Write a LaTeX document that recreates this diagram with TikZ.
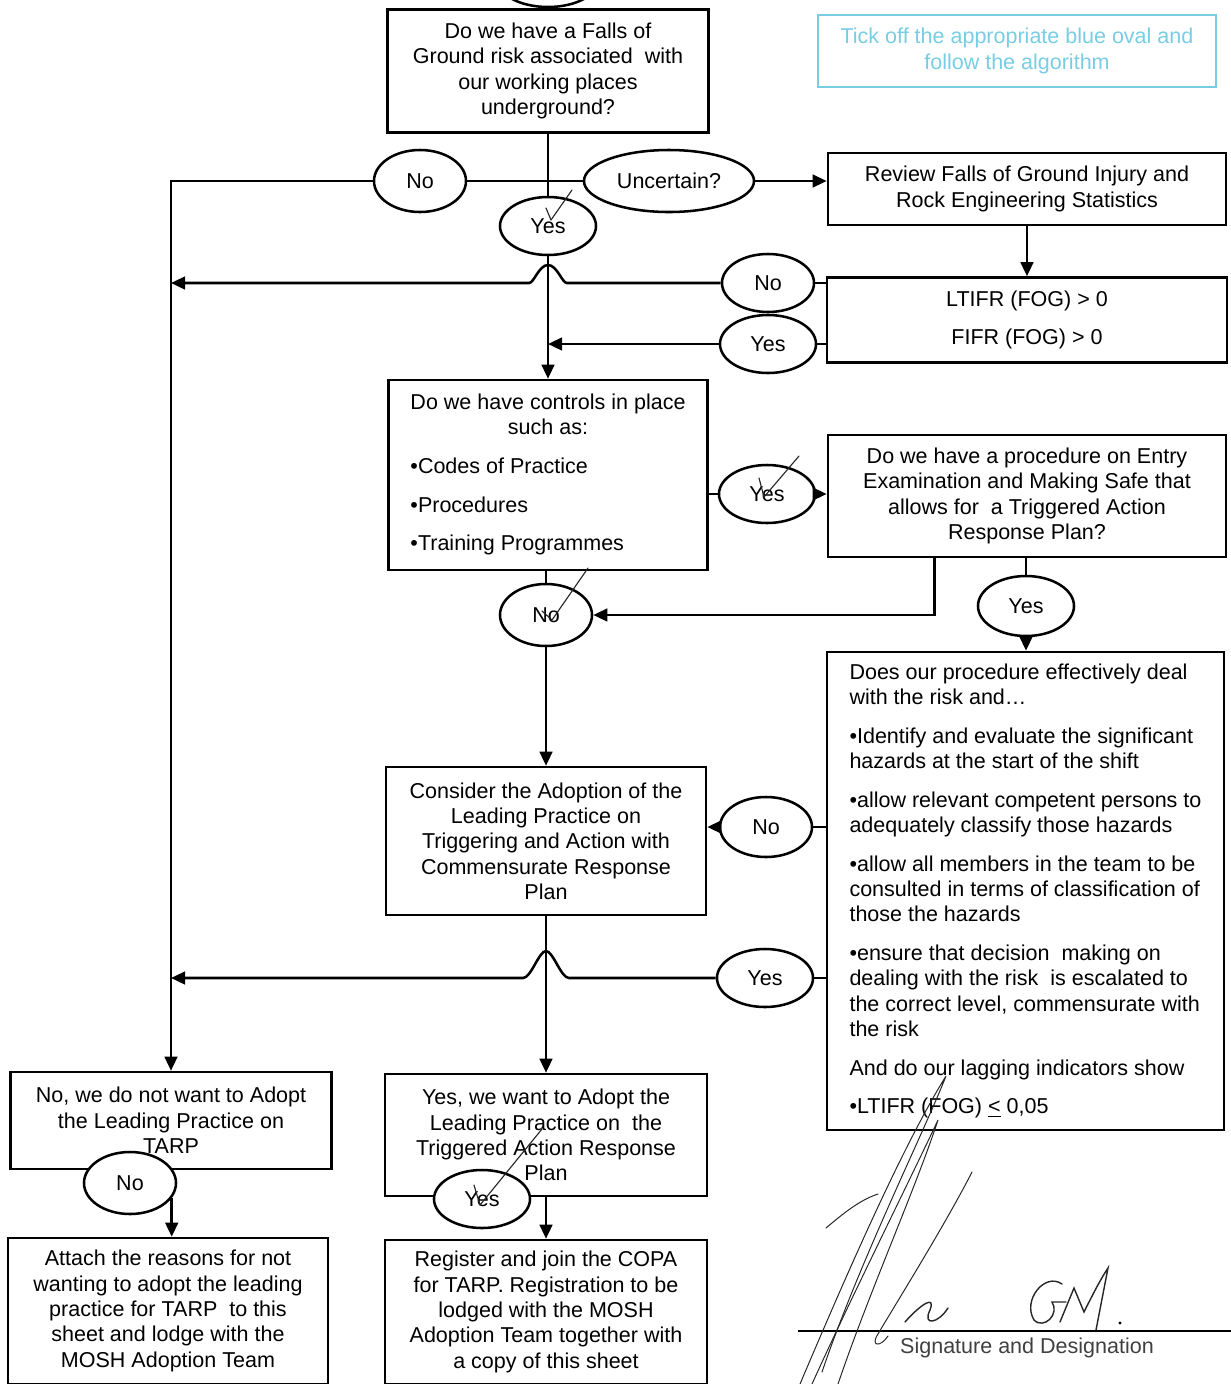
\documentclass[tikz,border=0pt]{standalone}
\usepackage{fontspec}
\setmainfont{Liberation Sans}
\usepackage{xcolor}
\usetikzlibrary{arrows.meta, positioning, shapes.geometric, calc}
\definecolor{notecyan}{RGB}{120,205,228}

\begin{document}
\begin{tikzpicture}[x=0.025cm, y=-0.025cm, font=\fontsize{15.3}{18}\selectfont,
  box/.style={draw, line width=1.8pt, fill=white, inner sep=2pt, align=center},
  oval/.style={draw, ellipse, line width=1.8pt, fill=white, inner sep=0pt,
    minimum width=2.4cm, minimum height=1.45cm},
  line/.style={line width=1.8pt},
  arr/.style={line width=1.8pt, -{Triangle[length=10pt, width=9pt]}},
  tick/.style={line width=0.8pt, black!85, line cap=round, line join=round},
  pen/.style={line width=0.7pt, black!85, line cap=round}]
  % Page
  \useasboundingbox (0,0) rectangle (1231,1384);
  \clip (0,0) rectangle (1231,1384);

  % Note at the top right
  \node[draw=notecyan, line width=0.8pt, text=notecyan, minimum width=9.95cm,
    minimum height=1.8cm, align=center] (note) at (1017,51)
    {Tick off the appropriate blue oval and\\follow the algorithm};

  % First question
  \node[oval, minimum width=2.6cm] (topoval) at (548,-22) {};
  \node[box, minimum width=8.025cm, minimum height=3.075cm] (q1) at (548,71)
    {Do we have a Falls of\\Ground risk associated\ \ with\\our working places\\underground?};
  \node[oval, minimum width=2.3cm, minimum height=1.55cm] (no1) at (420,181) {No};
  \node[oval, minimum width=4.25cm, minimum height=1.55cm] (unc) at (669,181) {Uncertain?};
  \node[oval] (yes1) at (548,226) {Yes};

  % Statistics
  \node[box, minimum width=9.95cm, minimum height=1.8cm] (review) at (1027,189)
    {Review Falls of Ground Injury and\\Rock Engineering Statistics};
  \node[box, minimum width=10cm, minimum height=2.125cm] (ltifr) at (1027,320)
    {LTIFR (FOG) > 0\\[9.5pt]FIFR (FOG) > 0};
  \node[oval, minimum width=2.3cm] (no2) at (768,283) {No};
  \node[oval] (yes2) at (768,344) {Yes};

  % Controls
  \node[box, minimum width=7.975cm, minimum height=4.75cm] (q2) at (548,475)
    {\begin{tabular}{@{}l@{}}
       Do we have controls in place\\
       \multicolumn{1}{@{}c@{}}{such as:}\\[9.5pt]
       •Codes of Practice\\[9.5pt]
       •Procedures\\[9.5pt]
       •Training Programmes
     \end{tabular}};
  \node[oval] (yes3) at (767,494) {Yes};
  \node[box, minimum width=9.95cm, minimum height=3.05cm] (q3) at (1027,496)
    {Do we have a procedure on Entry\\Examination and Making Safe that\\allows for\ \ a Triggered Action\\Response Plan?};
  \node[oval, minimum height=1.5cm] (yes4) at (1026,606) {Yes};
  \node[oval, minimum width=2.3cm, minimum height=1.55cm] (no3) at (546,615) {No};

  % Procedure check
  \node[box, minimum width=9.925cm, minimum height=11.95cm, align=left] (q4) at (1025.5,891)
    {Does our procedure effectively deal\\
     with the risk and…\\[9.5pt]
     •Identify and evaluate the significant\\
     hazards at the start of the shift\\[9.5pt]
     •allow relevant competent persons to\\
     adequately classify those hazards\\[9.5pt]
     •allow all members in the team to be\\
     consulted in terms of classification of\\
     those the hazards\\[9.5pt]
     •ensure that decision\ \ making on\\
     dealing with the risk\ \ is escalated to\\
     the correct level, commensurate with\\
     the risk\\[9.5pt]
     And do our lagging indicators show\\[9.5pt]
     •LTIFR (FOG) \underline{<} 0,05};
  \node[oval, minimum width=2.3cm, minimum height=1.5cm] (no4) at (766,827) {No};
  \node[oval] (yes5) at (765,978) {Yes};
  \node[box, minimum width=8cm, minimum height=3.7cm] (q5) at (546,841)
    {Consider the Adoption of the\\Leading Practice on\\Triggering and Action with\\Commensurate Response\\Plan};

  % Outcomes
  \node[box, minimum width=8.025cm, minimum height=2.425cm] (noadopt) at (171,1120.5)
    {No, we do not want to Adopt\\the Leading Practice on\\TARP};
  \node[oval, minimum width=2.3cm, minimum height=1.55cm] (no5) at (130,1183) {No};
  \node[box, minimum width=8.05cm, minimum height=3.05cm] (yesadopt) at (546,1135)
    {Yes, we want to Adopt the\\Leading Practice on\ \ the\\Triggered Action Response\\Plan};
  \node[oval] (yes6) at (482,1199) {Yes};
  \node[box, minimum width=8cm, minimum height=3.65cm] (attach) at (168,1311)
    {Attach the reasons for not\\wanting to adopt the leading\\practice for TARP\ \ to this\\sheet and lodge with the\\MOSH Adoption Team};
  \node[box, minimum width=8.05cm, minimum height=3.6cm] (register) at (546,1312)
    {Register and join the COPA\\for TARP. Registration to be\\lodged with the MOSH\\Adoption Team together with\\a copy of this sheet};

  % Connectors
  \draw[line] (q1) -- (yes1);
  \draw[arr] (yes1) -- (q2);
  \draw[line] (no1) -- (unc);
  \draw[arr] (no1.west) -| (noadopt.north);
  \draw[arr] (unc) -- (unc -| review.west);
  \draw[arr] (review) -- (ltifr);
  \draw[line] (ltifr.west |- no2) -- (no2);
  \draw[arr] (no2) -- ($(no2 -| q2.north)+(19,0)$)
    .. controls +(-5,0) and +(9,0) .. ($(no2 -| q2.north)+(0,-18)$)
    .. controls +(-9,0) and +(5,0) .. ($(no2 -| q2.north)+(-19,0)$)
    -- (no2 -| noadopt.north);
  \draw[line] (ltifr.west |- yes2) -- (yes2);
  \draw[arr] (yes2) -- (yes2 -| q2.north);
  \draw[line] (q2.east |- yes3) -- (yes3);
  \draw[arr] (yes3) -- (yes3 -| q3.west);
  \draw[line] (q2.south -| no3) -- (no3);
  \draw[arr] (no3) -- (no3 |- q5.north);
  \draw[arr] ($(q3.south west)+(108,0)$) |- (no3);
  \draw[line] (q3.south -| yes4) -- (yes4);
  \draw[arr] (yes4) -- (yes4 |- q4.north);
  \draw[line] (q4.west |- no4) -- (no4);
  \draw[arr] (no4) -- (no4 -| q5.east);
  \draw[line] (q4.west |- yes5) -- (yes5);
  \draw[arr] (yes5) -- ($(yes5 -| q5.south)+(23,0)$)
    .. controls +(-8,0) and +(7,0) .. ($(yes5 -| q5.south)+(0,-27)$)
    .. controls +(-7,0) and +(8,0) .. ($(yes5 -| q5.south)+(-23,0)$)
    -- (yes5 -| noadopt.north);
  \draw[arr] (q5) -- (yesadopt);
  \draw[arr] (no5.-20) -- (no5.-20 |- attach.north);
  \draw[arr] (yesadopt) -- (register);

  % Ticks on the chosen ovals
  \draw[tick, shift={(yes1)}] (-2,-18) -- (3,-6) -- (24,-36);
  \draw[tick, shift={(yes3)}] (-8,-16) -- (-3,3) -- (32,-38);
  \draw[tick, shift={(no3)}] (-4,-4) -- (6,5) -- (42,-47);
  \draw[tick, shift={(yes6)}] (-8,-14) -- (-2,6) -- (60,-70);

  % Signature
  \coordinate (sigl) at (798,1331);
  \coordinate (sigr) at (1231,1331);
  \draw[line, line width=1.4pt] (sigl) -- (sigr);
  \node[text=black!75, inner sep=0pt] (sigtext) at (1027,1348) {Signature and Designation};
  \draw[pen] (800,1384) .. controls (840,1290) and (900,1150) .. (946,1076)
    .. controls (925,1130) and (860,1260) .. (822,1372);
  \draw[pen] (812,1384) .. controls (850,1300) and (905,1190) .. (938,1120)
    .. controls (915,1190) and (870,1290) .. (838,1384);
  \draw[pen] (826,1228) .. controls (845,1212) and (860,1200) .. (878,1194);
  \draw[pen] (972,1172) .. controls (945,1225) and (895,1305) .. (878,1334)
    .. controls (870,1346) and (880,1348) .. (888,1336);
  \draw[pen, line width=1pt] (905,1322) .. controls (920,1305) and (936,1294) .. (930,1310)
    .. controls (922,1326) and (938,1324) .. (948,1308);
  \draw[pen, line width=1pt] (1062,1284) .. controls (1045,1272) and (1022,1300) .. (1034,1320)
    .. controls (1044,1330) and (1060,1314) .. (1052,1302) -- (1066,1302);
  \draw[pen, line width=1pt] (1060,1322) -- (1074,1288) -- (1084,1312)
    .. controls (1092,1296) and (1100,1280) .. (1108,1268) -- (1096,1330);
  \fill (1120,1323) circle (1.2pt);
\end{tikzpicture}
\end{document}
